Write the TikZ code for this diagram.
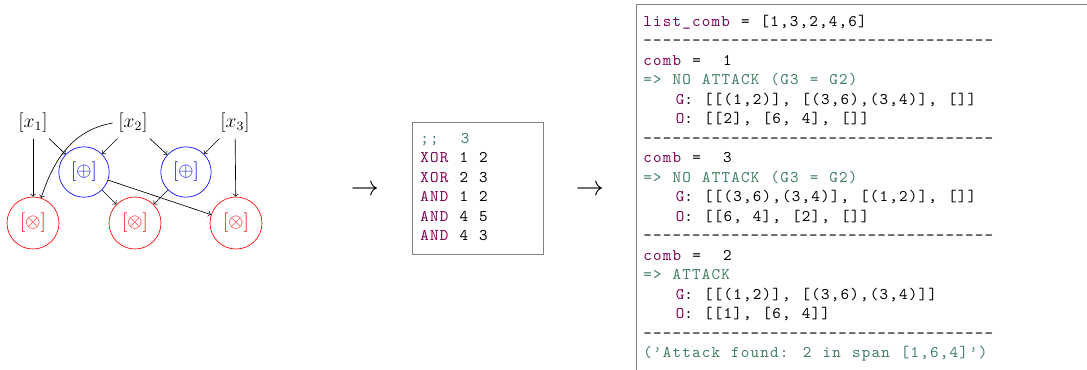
\documentclass[tikz,border=0pt]{standalone}
\usepackage{amsmath}
\usepackage{fontspec}
\newfontfamily\codefont{lmmono10-regular.otf}[LetterSpace=7.5,WordSpace=1.142857,Ligatures={TeXOff,CommonOff}]
\definecolor{kwcol}{RGB}{127,0,85}
\definecolor{cmtcol}{RGB}{63,127,95}
\newcommand{\kw}[1]{\textcolor{kwcol}{#1}}
\newcommand{\cmt}[1]{\textcolor{cmtcol}{#1}}
\newcommand{\codeind}{\hspace*{20pt}}
\tikzset{
  input/.style={font=\large},
  xorgate/.style={circle,draw=blue,text=blue,minimum size=31pt,inner sep=0pt,font=\large},
  andgate/.style={circle,draw=red,text=red,minimum size=32pt,inner sep=0pt,font=\large},
  code/.style={anchor=base west,inner sep=0pt,font=\codefont},
}

\begin{document}
\begin{tikzpicture}[x=0.6154pt,y=-0.6154pt,>=to]
\useasboundingbox (0,0) rectangle (1087,369);
\clip (0,0) rectangle (1087,369);
% circuit
\node[input] (x1) at (33,123) {$[x_1]$};
\node[input] (x2) at (133,123) {$[x_2]$};
\node[input] (x3) at (235,123) {$[x_3]$};
\node[xorgate] (g1) at (84,172) {$[\oplus]$};
\node[xorgate] (g2) at (186,172) {$[\oplus]$};
\node[andgate] (a1) at (33,223) {$[\otimes]$};
\node[andgate] (a2) at (135,223) {$[\otimes]$};
\node[andgate] (a3) at (236,223) {$[\otimes]$};
\draw[->] (x1) -- (a1);
\draw[->] (x1) -- (g1);
\draw[->] (x2) -- (g1);
\draw[->] (x2.west) to[out=190,in=72] (a1);
\draw[->] (x2) -- (g2);
\draw[->] (x3) -- (g2);
\draw[->] (x3) -- (a3);
\draw[->] (g1) -- (a2);
\draw[->] (g2) -- (a2);
\draw[->] (g1) -- (a3);
% arrows
\node (arr1) at (365,190) {\LARGE$\rightarrow$};
\node (arr2) at (590,190) {\LARGE$\rightarrow$};
% netlist
\draw[gray] (412,122) rectangle (543,254);
\node[code] (m1) at (420,143) {\cmt{;;~~3}};
\node[code] (m2) at (420,162.5) {\kw{XOR} 1 2};
\node[code] (m3) at (420,182) {\kw{XOR} 2 3};
\node[code] (m4) at (420,201.5) {\kw{AND} 1 2};
\node[code] (m5) at (420,221) {\kw{AND} 4 5};
\node[code] (m6) at (420,240.5) {\kw{AND} 4 3};
% output
\draw[gray] (636,4) rectangle (1200,400);
\node[code] (l1) at (643,26) {\kw{list\_comb} = [1,3,2,4,6]};
\node[code] (l2) at (643,45.5) {------------------------------------};
\node[code] (l3) at (643,65) {\kw{comb} =~~1};
\node[code] (l4) at (643,84.5) {\cmt{=> NO ATTACK (G3 = G2)}};
\node[code] (l5) at (643,104) {\codeind\kw{G}: [[(1,2)], [(3,6),(3,4)], []]};
\node[code] (l6) at (643,123.5) {\codeind\kw{O}: [[2], [6, 4], []]};
\node[code] (l7) at (643,143) {------------------------------------};
\node[code] (l8) at (643,162.5) {\kw{comb} =~~3};
\node[code] (l9) at (643,182) {\cmt{=> NO ATTACK (G3 = G2)}};
\node[code] (l10) at (643,201.5) {\codeind\kw{G}: [[(3,6),(3,4)], [(1,2)], []]};
\node[code] (l11) at (643,221) {\codeind\kw{O}: [[6, 4], [2], []]};
\node[code] (l12) at (643,240.5) {------------------------------------};
\node[code] (l13) at (643,260) {\kw{comb} =~~2};
\node[code] (l14) at (643,279.5) {\cmt{=> ATTACK}};
\node[code] (l15) at (643,299) {\codeind\kw{G}: [[(1,2)], [(3,6),(3,4)]]};
\node[code] (l16) at (643,318.5) {\codeind\kw{O}: [[1], [6, 4]]};
\node[code] (l17) at (643,338) {------------------------------------};
\node[code] (l18) at (643,357.5) {\cmt{(’Attack found: 2 in span [1,6,4]’)}};
\end{tikzpicture}
\end{document}
